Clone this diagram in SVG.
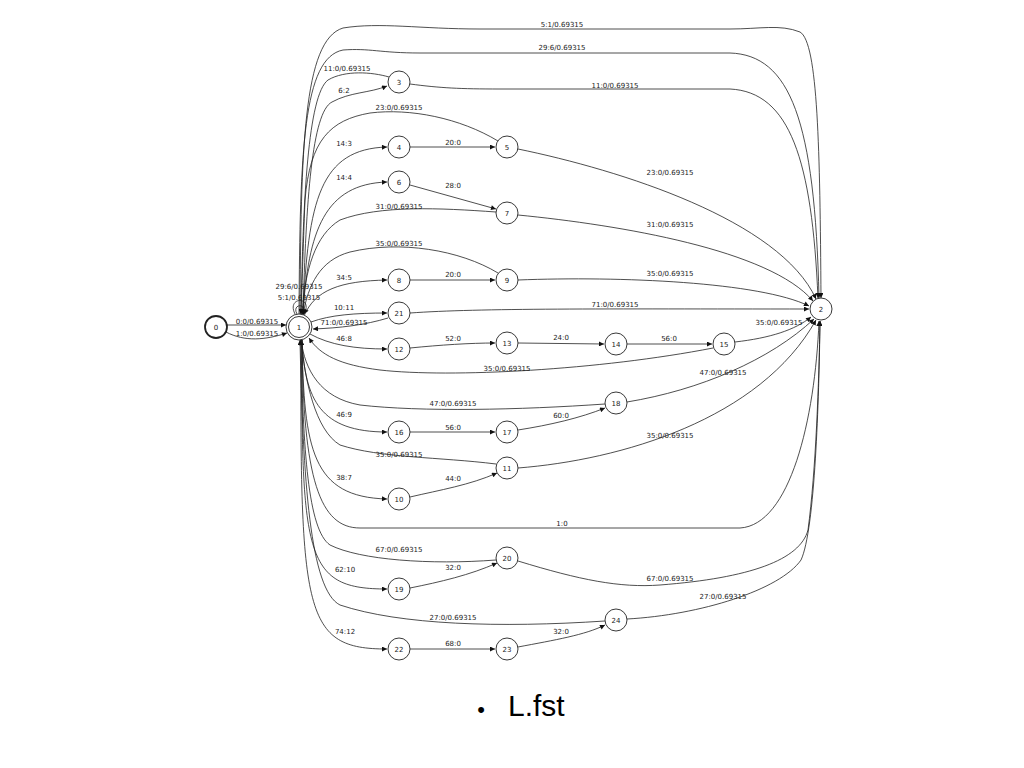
<svg xmlns="http://www.w3.org/2000/svg" width="1024" height="768" viewBox="0 0 1024 768">
<style>
.n circle{fill:#fff;stroke:#222;stroke-width:0.9}
.n text,.lb{font-family:"DejaVu Sans",sans-serif;font-size:7px;fill:#222;text-anchor:middle}
.e path{fill:none;stroke:#222;stroke-width:0.8;marker-end:url(#ah)}
</style>
<defs>
<marker id="ah" viewBox="0 0 10 10" refX="10" refY="5" markerWidth="7" markerHeight="5" orient="auto" markerUnits="userSpaceOnUse"><path d="M0,0 L10,5 L0,10 z" fill="#111"/></marker>
</defs>
<rect width="1024" height="768" fill="#fff"/>
<g id="connectors" class="e">
<path d="M227,325 L286,325"/>
<path d="M226,332 C245,342 265,340 287,333"/>
<path d="M295,314 C286,296 314,296 304,314"/>
<path d="M297,314 C291,303 309,303 302,314"/>
<path d="M300,314 C301,150 303,40 343,28 C380,22 420,29 480,29 L730,29 C760,29 780,24 800,32 C818,42 820,150 821,298"/>
<path d="M299,314 C300,150 303,58 343,50 C370,48 380,53 420,53 L730,53 C790,55 815,120 819,298"/>
<path d="M303,314 C306,200 312,112 332,102 C350,92 370,93 387,86"/>
<path d="M389,77 C372,72 345,70 328,80 C308,95 303,200 301,314"/>
<path d="M410,84 C440,88 460,89 500,89 L730,89 C790,92 812,160 818,298"/>
<path d="M303,315 C308,200 320,149 387,147"/>
<path d="M410,147 L495,147"/>
<path d="M498,141 C460,118 410,108 370,113 C330,120 310,140 305,200 C303,250 302,290 301,314"/>
<path d="M518,149 C620,170 780,220 816,299"/>
<path d="M303,315 C308,230 325,184 387,182"/>
<path d="M410,185 L496,209"/>
<path d="M496,212 C440,208 380,205 340,220 C315,235 305,270 302,314"/>
<path d="M518,215 C620,225 770,250 813,301"/>
<path d="M304,316 C315,290 340,281 387,280"/>
<path d="M410,280 L495,280"/>
<path d="M498,273 C460,250 400,240 350,252 C320,260 308,285 303,315"/>
<path d="M518,280 C620,276 760,282 809,306"/>
<path d="M311,322 C330,315 355,313 387,313"/>
<path d="M388,318 C365,325 340,328 313,329"/>
<path d="M410,313 C480,308 600,309 809,309"/>
<path d="M310,334 C330,345 355,349 387,349"/>
<path d="M410,348 C440,345 470,343 495,343"/>
<path d="M518,343 L604,344"/>
<path d="M627,344 L712,344"/>
<path d="M713,348 C600,370 450,378 380,370 C340,365 320,355 309,338"/>
<path d="M735,342 C770,338 795,330 811,317"/>
<path d="M605,404 C520,410 420,412 360,405 C320,398 305,370 301,340"/>
<path d="M627,402 C700,390 770,360 814,319"/>
<path d="M302,340 C305,400 320,432 387,432"/>
<path d="M410,432 L495,432"/>
<path d="M518,430 C550,425 580,418 605,408"/>
<path d="M496,464 C440,457 380,458 340,445 C315,430 305,380 301,340"/>
<path d="M518,468 C620,460 760,420 816,320"/>
<path d="M302,340 C304,450 312,497 387,499"/>
<path d="M410,497 C440,490 470,485 497,473"/>
<path d="M302,340 C303,480 320,528 360,528 L740,528 C790,525 815,420 819,321"/>
<path d="M496,560 C430,565 360,560 330,545 C308,530 303,450 301,340"/>
<path d="M518,561 C580,580 620,588 660,585 C750,578 800,560 808,530 C816,470 819,380 820,321"/>
<path d="M302,340 C301,560 306,589 387,589"/>
<path d="M410,588 C440,582 470,575 497,563"/>
<path d="M605,621 C500,628 400,625 340,605 C310,590 303,480 300,340"/>
<path d="M627,619 C700,615 780,590 801,560 C815,530 819,400 820,321"/>
<path d="M301,340 C300,615 304,649 387,649"/>
<path d="M410,649 L495,649"/>
<path d="M518,647 C555,640 585,635 605,625"/>
</g>
<g id="edge-labels" class="lb">
<text class="lb" x="257" y="324">0:0/0.69315</text>
<text class="lb" x="257" y="336">1:0/0.69315</text>
<text class="lb" x="299" y="289">29:6/0.69315</text>
<text class="lb" x="299" y="300">5:1/0.69315</text>
<text class="lb" x="562" y="27">5:1/0.69315</text>
<text class="lb" x="562" y="50">29:6/0.69315</text>
<text class="lb" x="347" y="71">11:0/0.69315</text>
<text class="lb" x="344" y="93">6:2</text>
<text class="lb" x="615" y="88">11:0/0.69315</text>
<text class="lb" x="399" y="110">23:0/0.69315</text>
<text class="lb" x="344" y="146">14:3</text>
<text class="lb" x="453" y="145">20:0</text>
<text class="lb" x="670" y="175">23:0/0.69315</text>
<text class="lb" x="344" y="180">14:4</text>
<text class="lb" x="453" y="188">28:0</text>
<text class="lb" x="399" y="209">31:0/0.69315</text>
<text class="lb" x="670" y="227">31:0/0.69315</text>
<text class="lb" x="399" y="246">35:0/0.69315</text>
<text class="lb" x="344" y="280">34:5</text>
<text class="lb" x="453" y="277">20:0</text>
<text class="lb" x="670" y="276">35:0/0.69315</text>
<text class="lb" x="344" y="310">10:11</text>
<text class="lb" x="344" y="325">71:0/0.69315</text>
<text class="lb" x="615" y="307">71:0/0.69315</text>
<text class="lb" x="344" y="341">46:8</text>
<text class="lb" x="453" y="341">52:0</text>
<text class="lb" x="561" y="340">24:0</text>
<text class="lb" x="669" y="341">56:0</text>
<text class="lb" x="779" y="325">35:0/0.69315</text>
<text class="lb" x="507" y="371">35:0/0.69315</text>
<text class="lb" x="723" y="375">47:0/0.69315</text>
<text class="lb" x="453" y="406">47:0/0.69315</text>
<text class="lb" x="344" y="417">46:9</text>
<text class="lb" x="453" y="430">56:0</text>
<text class="lb" x="561" y="418">60:0</text>
<text class="lb" x="670" y="438">35:0/0.69315</text>
<text class="lb" x="399" y="457">35:0/0.69315</text>
<text class="lb" x="344" y="480">38:7</text>
<text class="lb" x="453" y="481">44:0</text>
<text class="lb" x="562" y="526">1:0</text>
<text class="lb" x="399" y="552">67:0/0.69315</text>
<text class="lb" x="345" y="572">62:10</text>
<text class="lb" x="453" y="570">32:0</text>
<text class="lb" x="670" y="581">67:0/0.69315</text>
<text class="lb" x="723" y="599">27:0/0.69315</text>
<text class="lb" x="453" y="620">27:0/0.69315</text>
<text class="lb" x="345" y="634">74:12</text>
<text class="lb" x="453" y="646">68:0</text>
<text class="lb" x="561" y="634">32:0</text>
</g>
<g id="node0" class="n"><circle cx="216" cy="327" r="11" style="stroke-width:1.8"/><text x="216" y="329.5">0</text></g>
<g id="node1" class="n"><circle cx="299" cy="327" r="13"/><circle cx="299" cy="327" r="10.5"/><text x="299" y="329.5">1</text></g>
<g id="node2" class="n"><circle cx="821" cy="309" r="11"/><text x="821" y="311.5">2</text></g>
<g id="node3" class="n"><circle cx="399" cy="82" r="11"/><text x="399" y="84.5">3</text></g>
<g id="node4" class="n"><circle cx="399" cy="147" r="11"/><text x="399" y="149.5">4</text></g>
<g id="node5" class="n"><circle cx="507" cy="147" r="11"/><text x="507" y="149.5">5</text></g>
<g id="node6" class="n"><circle cx="399" cy="182" r="11"/><text x="399" y="184.5">6</text></g>
<g id="node7" class="n"><circle cx="507" cy="213" r="11"/><text x="507" y="215.5">7</text></g>
<g id="node8" class="n"><circle cx="399" cy="280" r="11"/><text x="399" y="282.5">8</text></g>
<g id="node9" class="n"><circle cx="507" cy="280" r="11"/><text x="507" y="282.5">9</text></g>
<g id="node21" class="n"><circle cx="399" cy="313" r="11"/><text x="399" y="315.5">21</text></g>
<g id="node12" class="n"><circle cx="399" cy="349" r="11"/><text x="399" y="351.5">12</text></g>
<g id="node13" class="n"><circle cx="507" cy="343" r="11"/><text x="507" y="345.5">13</text></g>
<g id="node14" class="n"><circle cx="616" cy="344" r="11"/><text x="616" y="346.5">14</text></g>
<g id="node15" class="n"><circle cx="724" cy="344" r="11"/><text x="724" y="346.5">15</text></g>
<g id="node18" class="n"><circle cx="616" cy="403" r="11"/><text x="616" y="405.5">18</text></g>
<g id="node16" class="n"><circle cx="399" cy="432" r="11"/><text x="399" y="434.5">16</text></g>
<g id="node17" class="n"><circle cx="507" cy="432" r="11"/><text x="507" y="434.5">17</text></g>
<g id="node11" class="n"><circle cx="507" cy="468" r="11"/><text x="507" y="470.5">11</text></g>
<g id="node10" class="n"><circle cx="399" cy="499" r="11"/><text x="399" y="501.5">10</text></g>
<g id="node20" class="n"><circle cx="507" cy="558" r="11"/><text x="507" y="560.5">20</text></g>
<g id="node19" class="n"><circle cx="399" cy="589" r="11"/><text x="399" y="591.5">19</text></g>
<g id="node24" class="n"><circle cx="616" cy="620" r="11"/><text x="616" y="622.5">24</text></g>
<g id="node22" class="n"><circle cx="399" cy="649" r="11"/><text x="399" y="651.5">22</text></g>
<g id="node23" class="n"><circle cx="507" cy="649" r="11"/><text x="507" y="651.5">23</text></g>
<g id="caption">
<text x="481" y="717" style="font-family:'Liberation Sans',sans-serif;font-size:22px;fill:#000;text-anchor:middle">•</text>
<text x="508" y="716" style="font-family:'Liberation Sans',sans-serif;font-size:30px;fill:#000">L.fst</text>
</g>
</svg>
